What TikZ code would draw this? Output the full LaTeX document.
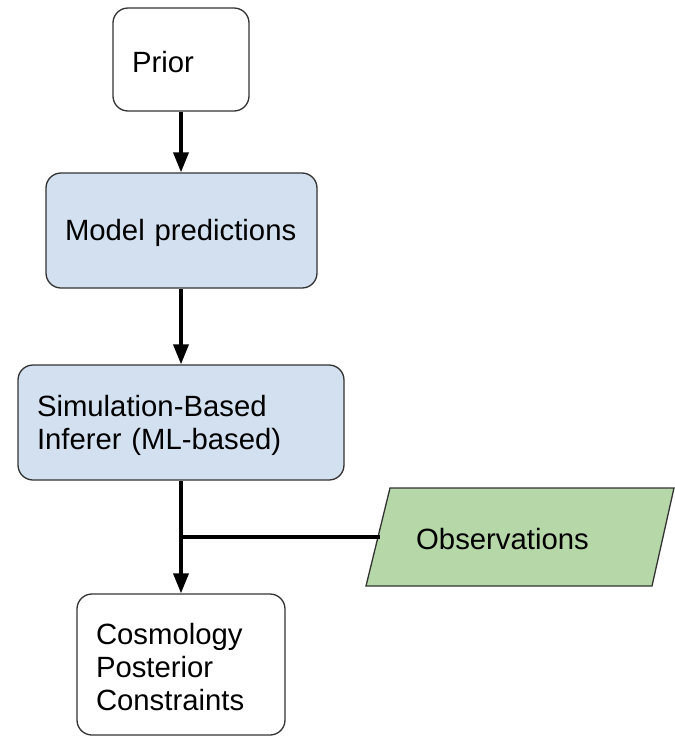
\documentclass[tikz,border=0pt]{standalone}
\usepackage{fontspec}
\setmainfont{Liberation Sans}
\usetikzlibrary{arrows.meta}
\definecolor{boxblue}{HTML}{D3E0F0}
\definecolor{boxgreen}{HTML}{B6D7A8}
\definecolor{edge}{HTML}{333333}
\begin{document}
\begin{tikzpicture}[x=1pt,y=-1pt,
  box/.style={draw=edge,line width=1.3pt,rounded corners=15pt,inner xsep=19pt,
    align=left,text height=27pt,font=\fontsize{29.3}{33}\selectfont},
  flow/.style={line width=3.6pt,-{Triangle[width=15pt,length=20pt]}},
  link/.style={line width=3.4pt}]
\useasboundingbox (0,0) rectangle (675,737);
\node[box,fill=white,minimum width=136pt,minimum height=103pt,text width=98pt] (prior) at (181,59.5) {Prior};
\node[box,fill=boxblue,minimum width=271pt,minimum height=115pt,text width=233pt] (model) at (181.5,230.5) {Model predictions};
\node[box,fill=boxblue,minimum width=326pt,minimum height=115pt,text width=288pt] (sbi) at (181,422.5) {Simulation-Based\\Inferer (ML-based)};
\node[box,fill=white,minimum width=208pt,minimum height=141pt,text width=170pt] (cpc) at (181,664.5) {Cosmology\\Posterior\\Constraints};
\draw[draw=edge,line width=1.3pt,fill=boxgreen] (366,586) -- (652,586) -- (674,488) -- (390,488) -- cycle;
\node[anchor=west,inner sep=0pt,font=\fontsize{29.3}{33}\selectfont] (obs) at (416,539) {Observations};
\coordinate (obsedge) at (380,537);
\coordinate (junc) at (181,537);
\draw[flow] (prior.south) -- (prior.south |- model.north);
\draw[flow] (model.south -| prior.south) -- (prior.south |- sbi.north);
\draw[flow] (sbi.south) -- (cpc.north);
\draw[link] (junc) -- (obsedge);
\end{tikzpicture}
\end{document}
